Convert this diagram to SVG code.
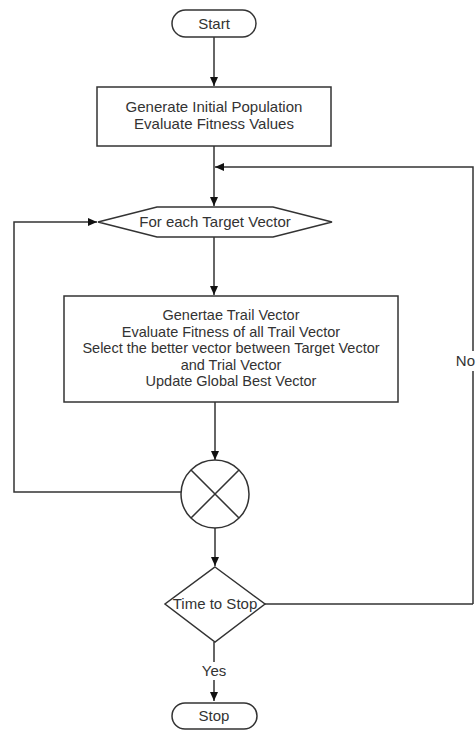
<svg xmlns="http://www.w3.org/2000/svg" width="476" height="731" viewBox="0 0 476 731">
<style>
.s{fill:#fff;stroke:#333;stroke-width:1.5}
.c{fill:none;stroke:#333;stroke-width:1.5}
.t{font-family:"Liberation Sans",Arial,sans-serif;font-size:15px;fill:#333;text-anchor:middle}
.p{font-size:14.5px}
</style>
<defs>
<marker id="a" markerWidth="10" markerHeight="10" refX="9" refY="5" orient="auto" markerUnits="userSpaceOnUse">
<path d="M0,1 L9,5 L0,9 Z" fill="#111"/>
</marker>
</defs>
<rect width="476" height="731" fill="#fff"/>
<g id="connectors">
<path class="c" d="M214,37 V86" marker-end="url(#a)"/>
<path class="c" d="M214,146 V206" marker-end="url(#a)"/>
<path class="c" d="M473,604 V167 H215" marker-end="url(#a)"/>
<path class="c" d="M214,237 V295" marker-end="url(#a)"/>
<path class="c" d="M215,402 V460" marker-end="url(#a)"/>
<path class="c" d="M181,492 H14 V222 H97" marker-end="url(#a)"/>
<path class="c" d="M215,528 V566" marker-end="url(#a)"/>
<path class="c" d="M264,604 H473"/>
<path class="c" d="M214,642 V701" marker-end="url(#a)"/>
<rect x="455" y="351" width="21" height="20" fill="#fff"/>
<text class="t" x="475" y="366" style="text-anchor:end">No</text>
<rect x="200" y="662" width="28" height="18" fill="#fff"/>
<text class="t" x="214" y="676">Yes</text>
</g>
<g id="start">
<rect class="s" x="172" y="10" width="84" height="27" rx="13.5"/>
<text class="t" x="214" y="29">Start</text>
</g>
<g id="init">
<rect class="s" x="97" y="87" width="234" height="59"/>
<text class="t" x="214" y="112">Generate Initial Population</text>
<text class="t" x="214" y="129">Evaluate Fitness Values</text>
</g>
<g id="loop">
<polygon class="s" points="98,222 157,207 273,207 332,222 273,237 157,237"/>
<text class="t" x="215" y="227">For each Target Vector</text>
</g>
<g id="process">
<rect class="s" x="64" y="296" width="334" height="106"/>
<text class="t p" x="231" y="320">Genertae Trail Vector</text>
<text class="t p" x="231" y="336.5">Evaluate Fitness of all Trail Vector</text>
<text class="t p" x="231" y="353">Select the better vector between Target Vector</text>
<text class="t p" x="231" y="369.5">and Trial Vector</text>
<text class="t p" x="231" y="386">Update Global Best Vector</text>
</g>
<g id="junction">
<circle class="s" cx="215" cy="494" r="34"/>
<path class="c" d="M191,470 L239,518 M239,470 L191,518"/>
</g>
<g id="decision">
<polygon class="s" points="215,567 265,604 215,642 165,604"/>
<text class="t" x="215" y="609">Time to Stop</text>
</g>
<g id="stop">
<rect class="s" x="172" y="703" width="85" height="26" rx="13"/>
<text class="t" x="214" y="721">Stop</text>
</g>
</svg>
